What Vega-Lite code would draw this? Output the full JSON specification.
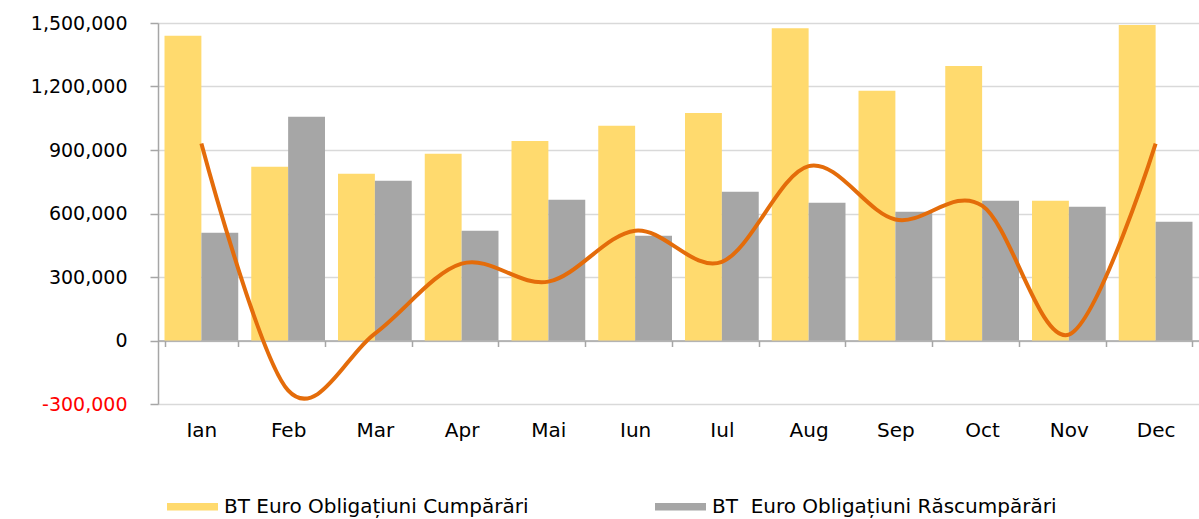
{
  "$schema": "https://vega.github.io/schema/vega-lite/v6.json",
  "width": 1041,
  "height": 381,
  "autosize": {"type": "none"},
  "padding": {"left": 158, "top": 23, "right": 0, "bottom": 115},
  "background": "white",
  "config": {"view": {"stroke": null}, "font": "DejaVu Sans"},
  "datasets": {
    "bars": [
      {"month": "Ian", "series": "BT Euro Obligațiuni Cumpărări", "value": 1440000},
      {"month": "Ian", "series": "BT  Euro Obligațiuni Răscumpărări", "value": 509000},
      {"month": "Feb", "series": "BT Euro Obligațiuni Cumpărări", "value": 821000},
      {"month": "Feb", "series": "BT  Euro Obligațiuni Răscumpărări", "value": 1057000},
      {"month": "Mar", "series": "BT Euro Obligațiuni Cumpărări", "value": 788000},
      {"month": "Mar", "series": "BT  Euro Obligațiuni Răscumpărări", "value": 755000},
      {"month": "Apr", "series": "BT Euro Obligațiuni Cumpărări", "value": 882000},
      {"month": "Apr", "series": "BT  Euro Obligațiuni Răscumpărări", "value": 519000},
      {"month": "Mai", "series": "BT Euro Obligațiuni Cumpărări", "value": 943000},
      {"month": "Mai", "series": "BT  Euro Obligațiuni Răscumpărări", "value": 665000},
      {"month": "Iun", "series": "BT Euro Obligațiuni Cumpărări", "value": 1014000},
      {"month": "Iun", "series": "BT  Euro Obligațiuni Răscumpărări", "value": 495000},
      {"month": "Iul", "series": "BT Euro Obligațiuni Cumpărări", "value": 1075000},
      {"month": "Iul", "series": "BT  Euro Obligațiuni Răscumpărări", "value": 703000},
      {"month": "Aug", "series": "BT Euro Obligațiuni Cumpărări", "value": 1475000},
      {"month": "Aug", "series": "BT  Euro Obligațiuni Răscumpărări", "value": 651000},
      {"month": "Sep", "series": "BT Euro Obligațiuni Cumpărări", "value": 1180000},
      {"month": "Sep", "series": "BT  Euro Obligațiuni Răscumpărări", "value": 608000},
      {"month": "Oct", "series": "BT Euro Obligațiuni Cumpărări", "value": 1297000},
      {"month": "Oct", "series": "BT  Euro Obligațiuni Răscumpărări", "value": 660000},
      {"month": "Nov", "series": "BT Euro Obligațiuni Cumpărări", "value": 660000},
      {"month": "Nov", "series": "BT  Euro Obligațiuni Răscumpărări", "value": 632000},
      {"month": "Dec", "series": "BT Euro Obligațiuni Cumpărări", "value": 1491000},
      {"month": "Dec", "series": "BT  Euro Obligațiuni Răscumpărări", "value": 561000}
    ],
    "net": [
      {"month": "Ian", "net": 931000},
      {"month": "Feb", "net": -236000},
      {"month": "Mar", "net": 33000},
      {"month": "Apr", "net": 363000},
      {"month": "Mai", "net": 278000},
      {"month": "Iun", "net": 519000},
      {"month": "Iul", "net": 372000},
      {"month": "Aug", "net": 824000},
      {"month": "Sep", "net": 572000},
      {"month": "Oct", "net": 637000},
      {"month": "Nov", "net": 28000},
      {"month": "Dec", "net": 930000}
    ]
  },
  "layer": [
    {
      "data": {"name": "bars"},
      "mark": {"type": "bar"},
      "encoding": {
        "x": {
          "field": "month", "type": "nominal",
          "sort": ["Ian", "Feb", "Mar", "Apr", "Mai", "Iun", "Iul", "Aug", "Sep", "Oct", "Nov", "Dec"],
          "scale": {"paddingInner": 0.15, "paddingOuter": 0.075},
          "axis": {
            "title": null, "labelAngle": 0, "offset": -63.5,
            "domainColor": "#A6A6A6", "domainWidth": 1.5,
            "tickColor": "#A6A6A6", "tickSize": 6, "tickWidth": 1.5, "tickBand": "extent",
            "labelPadding": 74, "labelFontSize": 20, "labelColor": "#000000",
            "labelFont": "DejaVu Sans", "grid": false
          }
        },
        "xOffset": {
          "field": "series", "type": "nominal",
          "sort": ["BT Euro Obligațiuni Cumpărări", "BT  Euro Obligațiuni Răscumpărări"],
          "scale": {"paddingInner": 0, "paddingOuter": 0}
        },
        "y": {
          "field": "value", "type": "quantitative", "stack": null,
          "scale": {"domain": [-300000, 1500000], "nice": false, "zero": false},
          "axis": {
            "title": null,
            "values": [-300000, 0, 300000, 600000, 900000, 1200000, 1500000],
            "labelExpr": "(datum.value < 0 ? '-' : '') + format(abs(datum.value), ',.0f')",
            "grid": true, "gridColor": "#D9D9D9", "gridWidth": 1.5,
            "domain": true, "domainColor": "#A6A6A6", "domainWidth": 1.5,
            "tickColor": "#A6A6A6", "tickSize": 8, "tickWidth": 1.5,
            "labelPadding": 23, "labelFontSize": 19, "labelFont": "DejaVu Sans",
            "labelColor": {"condition": {"test": "datum.value < 0", "value": "#FF0000"}, "value": "#000000"}
          }
        },
        "color": {
          "field": "series", "type": "nominal",
          "scale": {
            "domain": ["BT Euro Obligațiuni Cumpărări", "BT  Euro Obligațiuni Răscumpărări"],
            "range": ["#FFDA6E", "#A6A6A6"]
          },
          "legend": {
            "orient": "none", "legendX": 9, "legendY": 458,
            "direction": "horizontal", "title": null,
            "labelExpr": "replace(datum.label, 'BT  ', 'BT\u00a0 ')",
            "symbolType": "M-1,-0.15H1V0.15H-1Z", "symbolSize": 2601,
            "symbolStrokeWidth": 0, "symbolOpacity": 1,
            "labelFont": "DejaVu Sans", "labelFontSize": 20, "labelColor": "#000000",
            "labelOffset": 6, "columnPadding": 126, "padding": 0, "labelLimit": 600
          }
        }
      }
    },
    {
      "data": {"name": "net"},
      "mark": {"type": "line", "interpolate": "cardinal", "color": "#E46C0A", "strokeWidth": 4},
      "encoding": {
        "x": {
          "field": "month", "type": "nominal",
          "sort": ["Ian", "Feb", "Mar", "Apr", "Mai", "Iun", "Iul", "Aug", "Sep", "Oct", "Nov", "Dec"]
        },
        "y": {"field": "net", "type": "quantitative"}
      }
    }
  ]
}
